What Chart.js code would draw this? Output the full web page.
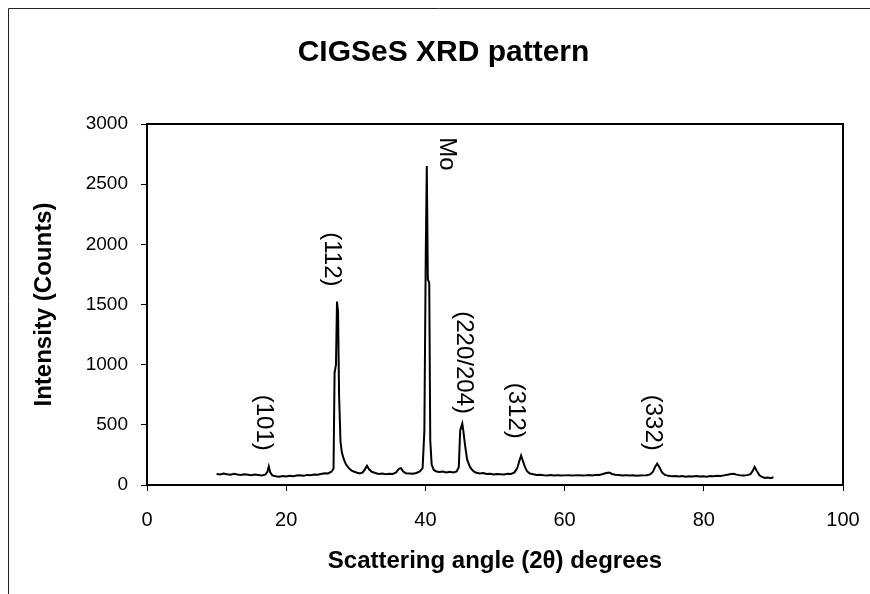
<!DOCTYPE html>
<html><head><meta charset="utf-8">
<script src="https://cdn.jsdelivr.net/npm/chart.js@4.4.1/dist/chart.umd.min.js"></script>
<style>html,body{margin:0;padding:0;background:#fff;}</style>
</head><body>
<canvas id="c" width="870" height="594"></canvas>
<script>
const angles = [10.0,10.5,11.0,11.5,12.0,12.5,13.0,13.5,14.0,14.5,15.0,15.5,16.0,16.5,17.0,17.3,17.5,17.7,18.0,18.5,19.0,19.5,20.0,20.5,21.0,21.5,22.0,22.5,23.0,23.5,24.0,24.5,25.0,25.5,26.0,26.5,26.8,26.95,27.15,27.3,27.45,27.6,27.8,28.0,28.3,28.6,29.0,29.4,29.8,30.2,30.6,31.0,31.3,31.6,31.9,32.3,32.8,33.3,33.8,34.3,34.8,35.3,35.8,36.2,36.5,36.8,37.2,37.7,38.2,38.7,39.2,39.6,39.85,40.05,40.2,40.35,40.55,40.7,40.9,41.2,41.6,42.0,42.5,43.0,43.5,44.0,44.5,44.8,45.0,45.3,45.45,45.7,46.0,46.4,46.8,47.2,47.8,48.3,48.8,49.3,49.8,50.3,50.8,51.3,51.8,52.3,52.8,53.2,53.5,53.75,54.0,54.3,54.6,55.0,55.5,56.0,56.5,57.0,57.5,58.0,58.5,59.0,59.5,60.0,60.5,61.0,61.5,62.0,62.5,63.0,63.5,64.0,64.5,65.0,65.5,66.0,66.4,66.8,67.3,67.8,68.3,68.8,69.3,69.8,70.3,70.8,71.3,71.8,72.3,72.7,73.0,73.3,73.6,74.0,74.4,74.9,75.4,75.9,76.4,76.9,77.4,77.9,78.4,78.9,79.4,79.9,80.4,80.9,81.4,81.9,82.4,82.9,83.4,83.9,84.3,84.7,85.2,85.7,86.2,86.7,87.0,87.3,87.6,88.0,88.4,88.8,89.2,89.6,90.0];
const counts = [92,88,95,90,86,93,88,84,90,86,82,88,84,80,86,110,155,105,80,72,68,74,70,76,72,78,80,76,84,82,88,86,92,98,96,110,135,930,1000,1525,1440,740,360,270,210,170,140,120,110,102,96,105,130,160,130,110,100,92,96,90,94,92,105,135,140,112,98,96,94,100,112,140,450,1900,2650,1710,1680,370,170,125,112,108,112,104,110,104,112,150,455,510,450,330,210,150,120,104,96,100,92,94,88,92,90,88,94,92,105,140,200,245,200,150,115,96,90,84,86,82,80,84,80,82,78,80,82,78,80,82,78,80,84,80,86,84,92,100,104,92,86,84,80,82,78,80,76,78,80,82,88,110,150,178,150,105,84,76,72,74,70,74,68,72,70,74,70,72,68,74,72,76,74,80,86,92,94,86,80,78,82,90,115,150,118,80,66,58,62,56,64];
const peakLabels = ['(101)', '(112)', 'Mo', '(220/204)', '(312)', '(332)'];
const peakLabelX = [16.7, 26.5, 43.0, 45.45, 52.9, 72.6];
const peakLabelTop = [750, 2100, 2890, 1444, 850, 750];

const FONT = '"Liberation Sans", Arial, sans-serif';

const decor = {
  id: 'decor',
  afterDraw(chart) {
    const ctx = chart.ctx, a = chart.chartArea;
    ctx.save();
    ctx.strokeStyle = '#222';
    ctx.lineWidth = 1;
    ctx.beginPath();
    ctx.moveTo(8.5, 594); ctx.lineTo(8.5, 8.5); ctx.lineTo(870, 8.5);
    ctx.stroke();
    ctx.strokeStyle = '#000';
    ctx.lineWidth = 2;
    ctx.strokeRect(a.left, a.top, a.right - a.left, a.bottom - a.top);
    const xs = chart.scales.x, ys = chart.scales.y;
    ctx.fillStyle = '#000';
    ctx.font = '24px ' + FONT;
    ctx.textAlign = 'left';
    ctx.textBaseline = 'middle';
    for (let i = 0; i < peakLabels.length; i++) {
      const px = xs.getPixelForValue(peakLabelX[i]);
      const py = ys.getPixelForValue(peakLabelTop[i]);
      ctx.save();
      ctx.translate(px, py);
      ctx.rotate(Math.PI / 2);
      ctx.fillText(peakLabels[i], 0, 0);
      ctx.restore();
    }
    ctx.restore();
  }
};

new Chart(document.getElementById('c'), {
  type: 'line',
  data: {
    datasets: [{
      data: angles.map((a, i) => ({x: a, y: counts[i]})),
      borderColor: '#000',
      borderWidth: 2,
      pointRadius: 0,
      tension: 0,
      fill: false
    }]
  },
  options: {
    responsive: false,
    animation: false,
    devicePixelRatio: 1,
    layout: { padding: { top: 8, left: 44, right: 27, bottom: 0 } },
    plugins: {
      legend: { display: false },
      tooltip: { enabled: false },
      title: {
        display: true,
        text: 'CIGSeS XRD pattern',
        color: '#000',
        font: { family: FONT, size: 30, weight: 'bold', lineHeight: 1.2 },
        padding: { top: 27, bottom: 53 }
      }
    },
    scales: {
      x: {
        type: 'linear',
        min: 0, max: 100,
        afterFit(s) { s.height = 109; s.paddingLeft = 0; s.paddingRight = 0; },
        ticks: { stepSize: 20, color: '#000', padding: 17, font: { family: FONT, size: 20 },
                 callback: v => String(v) },
        grid: { drawOnChartArea: false, tickLength: 6, color: '#000' },
        border: { display: false },
        title: { display: true, text: 'Scattering angle (2θ) degrees', color: '#000',
                 font: { family: FONT, size: 24, weight: 'bold', lineHeight: 1.2 },
                 padding: { top: 0, bottom: 18 } }
      },
      y: {
        min: 0, max: 3000,
        afterFit(s) { s.width = 103; },
        ticks: { stepSize: 500, color: '#000', padding: 13, font: { family: FONT, size: 19 },
                 callback: v => String(v) },
        grid: { drawOnChartArea: false, tickLength: 6, color: '#000' },
        border: { display: false },
        title: { display: true, text: 'Intensity (Counts)', color: '#000',
                 font: { family: FONT, size: 24, weight: 'bold', lineHeight: 1.2 },
                 padding: { top: -14, bottom: 0 } }
      }
    }
  },
  plugins: [decor]
});
</script>
</body></html>
